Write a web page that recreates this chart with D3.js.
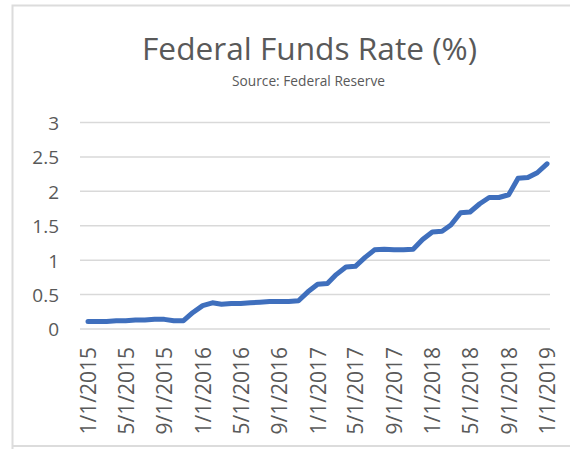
<!DOCTYPE html>
<html>
<head>
<meta charset="utf-8">
<script src="https://cdn.jsdelivr.net/npm/d3@7"></script>
<style>
  html, body { margin: 0; padding: 0; background: #ffffff; }
  svg { display: block; }
  text { font-family: "Open Sans", "Noto Sans", sans-serif; }
</style>
</head>
<body>
<svg id="chart" width="570" height="449"></svg>
<script>
// Monthly effective federal funds rate, Jan 2015 – Jan 2019
const months = [
  "2015-01","2015-02","2015-03","2015-04","2015-05","2015-06","2015-07","2015-08","2015-09","2015-10","2015-11","2015-12",
  "2016-01","2016-02","2016-03","2016-04","2016-05","2016-06","2016-07","2016-08","2016-09","2016-10","2016-11","2016-12",
  "2017-01","2017-02","2017-03","2017-04","2017-05","2017-06","2017-07","2017-08","2017-09","2017-10","2017-11","2017-12",
  "2018-01","2018-02","2018-03","2018-04","2018-05","2018-06","2018-07","2018-08","2018-09","2018-10","2018-11","2018-12",
  "2019-01"
];
const rates = [
  0.11,0.11,0.11,0.12,0.12,0.13,0.13,0.14,0.14,0.12,0.12,0.24,
  0.34,0.38,0.36,0.37,0.37,0.38,0.39,0.40,0.40,0.40,0.41,0.54,
  0.65,0.66,0.79,0.90,0.91,1.04,1.15,1.16,1.15,1.15,1.16,1.30,
  1.41,1.42,1.51,1.69,1.70,1.82,1.91,1.91,1.95,2.19,2.20,2.27,
  2.40
];
const xTickDates = ["2015-01","2015-05","2015-09","2016-01","2016-05","2016-09","2017-01","2017-05","2017-09","2018-01","2018-05","2018-09","2019-01"];
const xTickLabels = ["1/1/2015","5/1/2015","9/1/2015","1/1/2016","5/1/2016","9/1/2016","1/1/2017","5/1/2017","9/1/2017","1/1/2018","5/1/2018","9/1/2018","1/1/2019"];
const yTicks = [0, 0.5, 1, 1.5, 2, 2.5, 3];
const yTickLabels = ["0","0.5","1","1.5","2","2.5","3"];
const titleText = "Federal Funds Rate (%)";
const subtitleText = "Source: Federal Reserve";

const parseMonth = d3.timeParse("%Y-%m");
const data = months.map((m, i) => ({ date: parseMonth(m), value: rates[i] }));

const svg = d3.select("#chart");
const plot = { left: 80, right: 550, top: 122.5, bottom: 329 };

// Outer chart frame
svg.append("path")
  .attr("d", "M12.5,452 L12.5,5.5 L575,5.5 M12.5,446 L575,446")
  .attr("fill", "none")
  .attr("stroke", "#dcdcdc")
  .attr("stroke-width", 2);

const x = d3.scaleTime()
  .domain([parseMonth("2015-01"), parseMonth("2019-01")])
  .range([88, 547]);
const y = d3.scaleLinear().domain([0, 3]).range([plot.bottom, plot.top]);

// Horizontal gridlines
svg.append("g")
  .selectAll("line")
  .data(yTicks)
  .join("line")
  .attr("x1", plot.left)
  .attr("x2", plot.right)
  .attr("y1", d => y(d))
  .attr("y2", d => y(d))
  .attr("stroke", "#d9d9d9")
  .attr("stroke-width", 1.5);

// Y axis labels
const yAxis = d3.axisLeft(y)
  .tickValues(yTicks)
  .tickFormat((d, i) => yTickLabels[i])
  .tickSize(0)
  .tickPadding(0);
const yg = svg.append("g").attr("transform", "translate(59,0)").call(yAxis);
yg.select(".domain").remove();
yg.selectAll("text")
  .attr("fill", "#595959")
  .attr("font-size", "19px")
  .attr("font-family", "\"Open Sans\", sans-serif")
  .attr("dy", "0.36em");

// X axis labels, rotated
const xAxis = d3.axisBottom(x)
  .tickValues(xTickDates.map(parseMonth))
  .tickFormat((d, i) => xTickLabels[i])
  .tickSize(0)
  .tickPadding(0);
const xg = svg.append("g").attr("transform", "translate(0,347)").call(xAxis);
xg.select(".domain").remove();
xg.selectAll("text")
  .attr("fill", "#595959")
  .attr("font-size", "21px")
  .attr("font-family", "\"Open Sans\", sans-serif")
  .attr("text-anchor", "end")
  .attr("transform", "rotate(-90)")
  .attr("x", 0)
  .attr("y", 0)
  .attr("dy", "0.36em");

// Rate line
const line = d3.line()
  .x(d => x(d.date))
  .y(d => y(d.value));
svg.append("path")
  .datum(data)
  .attr("d", line)
  .attr("fill", "none")
  .attr("stroke", "#3f6fbd")
  .attr("stroke-width", 5)
  .attr("stroke-linejoin", "round")
  .attr("stroke-linecap", "round");

// Title and source line, sized to their set widths
function fittedText(str, cx, baseline, width, color) {
  const t = svg.append("text")
    .attr("x", cx)
    .attr("y", baseline)
    .attr("text-anchor", "middle")
    .attr("fill", color)
    .attr("font-size", "100px")
    .text(str);
  const w = t.node().getComputedTextLength();
  t.attr("font-size", (100 * width / w).toFixed(2) + "px");
  return t;
}
fittedText(titleText, 309.5, 60, 335, "#595959");
fittedText(subtitleText, 308.5, 85.5, 153, "#595959");
</script>
</body>
</html>
